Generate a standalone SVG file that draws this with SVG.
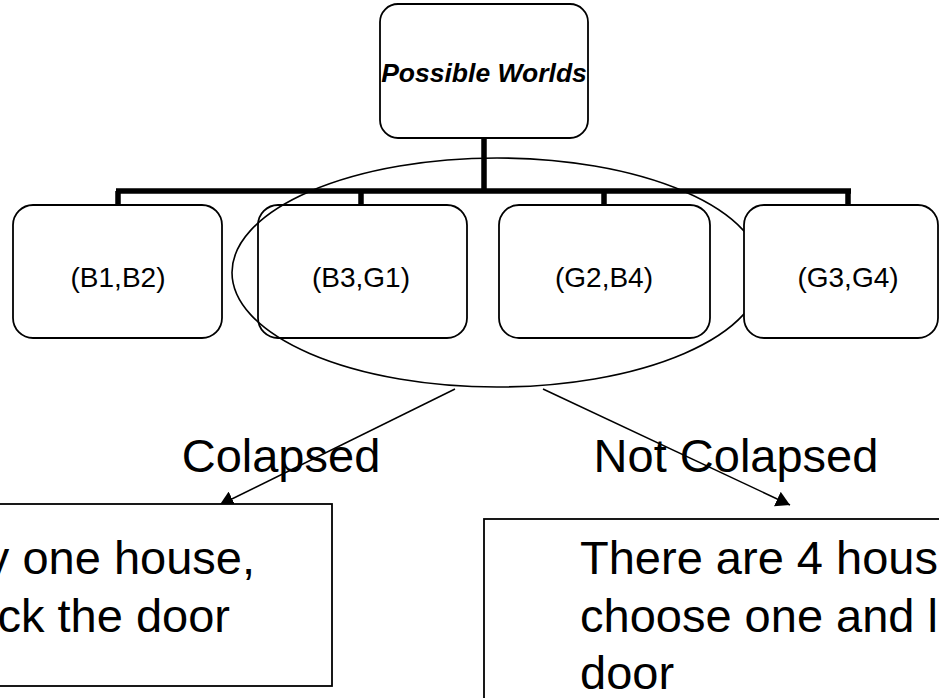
<svg xmlns="http://www.w3.org/2000/svg" width="939" height="698" viewBox="0 0 939 698">
  <style>
    .box { fill: #ffffff; stroke: #000000; stroke-width: 1.8; }
    .tree { fill: none; stroke: #000000; stroke-width: 5.5; }
    .arrow { fill: none; stroke: #000000; stroke-width: 1.5; marker-end: url(#head); }
    .oval { fill: none; stroke: #000000; stroke-width: 1.6; }
    .t { font-family: "Liberation Sans", Arial, sans-serif; fill: #000000; }
    .node { font-size: 28px; text-anchor: middle; }
    .big { font-size: 47px; }
  </style>
  <defs>
    <marker id="head" markerUnits="userSpaceOnUse" markerWidth="14" markerHeight="16" viewBox="0 0 14 16" refX="14" refY="8" orient="auto">
      <path d="M0,0 L14,8 L0,16 z" fill="#000000"/>
    </marker>
  </defs>

  <g id="connectors">
    <path class="tree" d="M484,138 V191 M116,191 H851 M118,191 V205 M361,191 V205 M604,191 V205 M848,191 V205"/>
    <line class="arrow" x1="455" y1="389" x2="219.6" y2="505"/>
    <line class="arrow" x1="543" y1="389" x2="790" y2="505"/>
  </g>

  <g id="possible-worlds">
    <rect class="box" x="380" y="4" width="208" height="134" rx="18" ry="18"/>
    <text class="t" x="484" y="82" font-size="26.5" font-weight="bold" font-style="italic" text-anchor="middle">Possible Worlds</text>
  </g>

  <g id="b1b2">
    <rect class="box" x="13" y="205" width="209" height="133" rx="20" ry="20"/>
    <text class="t node" x="118" y="287">(B1,B2)</text>
  </g>

  <g id="b3g1">
    <rect class="box" x="258" y="205" width="209" height="133" rx="20" ry="20"/>
    <text class="t node" x="361" y="287">(B3,G1)</text>
  </g>

  <g id="g2b4">
    <rect class="box" x="499" y="205" width="211" height="133" rx="20" ry="20"/>
    <text class="t node" x="604" y="287">(G2,B4)</text>
  </g>

  <g id="selection">
    <ellipse class="oval" cx="497" cy="272.5" rx="265" ry="114.5"/>
  </g>

  <g id="g3g4">
    <rect class="box" x="744" y="205" width="194" height="133" rx="20" ry="20"/>
    <text class="t node" x="848" y="287">(G3,G4)</text>
  </g>

  <g id="labels">
    <text class="t big" x="281" y="472" text-anchor="middle">Colapsed</text>
    <text class="t big" x="736" y="472" text-anchor="middle">Not Colapsed</text>
  </g>

  <g id="collapsed-result">
    <rect class="box" x="-10" y="504" width="342" height="182"/>
    <text class="t big" x="255" y="574" text-anchor="end">y one house,</text>
    <text class="t big" x="230" y="632" text-anchor="end">ck the door</text>
  </g>

  <g id="not-collapsed-result">
    <rect class="box" x="484" y="519" width="470" height="200"/>
    <text class="t big" x="580" y="574">There are 4 hous</text>
    <text class="t big" x="580" y="632">choose one and l</text>
    <text class="t big" x="580" y="689">door</text>
  </g>
</svg>
